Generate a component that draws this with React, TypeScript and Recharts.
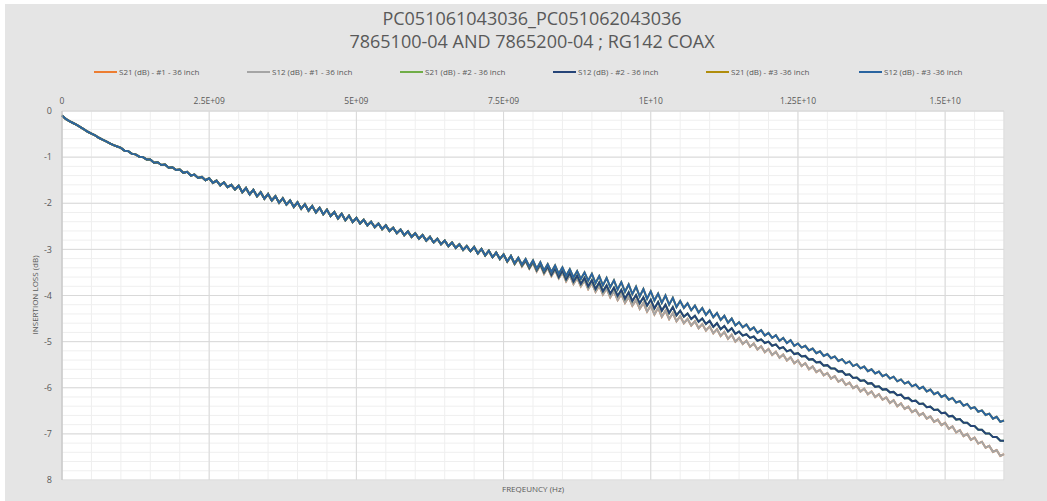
import { LineChart, Line, XAxis, YAxis, CartesianGrid } from 'recharts'

// sweep points, GHz
const FREQ_GHZ = [
  0, 0.0625, 0.125, 0.1875, 0.25, 0.3125, 0.375, 0.4375, 0.5, 0.5625, 0.625, 0.6875, 0.75, 0.8125, 0.875, 0.9375,
  1, 1.0625, 1.125, 1.1875, 1.25, 1.3125, 1.375, 1.4375, 1.5, 1.5625, 1.625, 1.6875, 1.75, 1.8125, 1.875, 1.9375,
  2, 2.0625, 2.125, 2.1875, 2.25, 2.3125, 2.375, 2.4375, 2.5, 2.5625, 2.625, 2.6875, 2.75, 2.8125, 2.875, 2.9375,
  3, 3.0625, 3.125, 3.1875, 3.25, 3.3125, 3.375, 3.4375, 3.5, 3.5625, 3.625, 3.6875, 3.75, 3.8125, 3.875, 3.9375,
  4, 4.0625, 4.125, 4.1875, 4.25, 4.3125, 4.375, 4.4375, 4.5, 4.5625, 4.625, 4.6875, 4.75, 4.8125, 4.875, 4.9375,
  5, 5.0625, 5.125, 5.1875, 5.25, 5.3125, 5.375, 5.4375, 5.5, 5.5625, 5.625, 5.6875, 5.75, 5.8125, 5.875, 5.9375,
  6, 6.0625, 6.125, 6.1875, 6.25, 6.3125, 6.375, 6.4375, 6.5, 6.5625, 6.625, 6.6875, 6.75, 6.8125, 6.875, 6.9375,
  7, 7.0625, 7.125, 7.1875, 7.25, 7.3125, 7.375, 7.4375, 7.5, 7.5625, 7.625, 7.6875, 7.75, 7.8125, 7.875, 7.9375,
  8, 8.0625, 8.125, 8.1875, 8.25, 8.3125, 8.375, 8.4375, 8.5, 8.5625, 8.625, 8.6875, 8.75, 8.8125, 8.875, 8.9375,
  9, 9.0625, 9.125, 9.1875, 9.25, 9.3125, 9.375, 9.4375, 9.5, 9.5625, 9.625, 9.6875, 9.75, 9.8125, 9.875, 9.9375,
  10, 10.0625, 10.125, 10.1875, 10.25, 10.3125, 10.375, 10.4375, 10.5, 10.5625, 10.625, 10.6875, 10.75, 10.8125, 10.875, 10.9375,
  11, 11.0625, 11.125, 11.1875, 11.25, 11.3125, 11.375, 11.4375, 11.5, 11.5625, 11.625, 11.6875, 11.75, 11.8125, 11.875, 11.9375,
  12, 12.0625, 12.125, 12.1875, 12.25, 12.3125, 12.375, 12.4375, 12.5, 12.5625, 12.625, 12.6875, 12.75, 12.8125, 12.875, 12.9375,
  13, 13.0625, 13.125, 13.1875, 13.25, 13.3125, 13.375, 13.4375, 13.5, 13.5625, 13.625, 13.6875, 13.75, 13.8125, 13.875, 13.9375,
  14, 14.0625, 14.125, 14.1875, 14.25, 14.3125, 14.375, 14.4375, 14.5, 14.5625, 14.625, 14.6875, 14.75, 14.8125, 14.875, 14.9375,
  15, 15.0625, 15.125, 15.1875, 15.25, 15.3125, 15.375, 15.4375, 15.5, 15.5625, 15.625, 15.6875, 15.75, 15.8125, 15.875, 15.9375,
  16,
]

// 0 - 7.5 GHz: all three cables lie on top of each other
const COMMON = [
  -0.10, -0.17, -0.22, -0.26, -0.30, -0.35, -0.40, -0.45, -0.49, -0.53, -0.58, -0.62, -0.66, -0.70, -0.74, -0.77,
  -0.80, -0.86, -0.87, -0.93, -0.94, -0.99, -1.00, -1.05, -1.05, -1.12, -1.11, -1.17, -1.16, -1.23, -1.22, -1.28,
  -1.27, -1.34, -1.32, -1.40, -1.38, -1.45, -1.43, -1.50, -1.46, -1.56, -1.51, -1.61, -1.55, -1.65, -1.60, -1.70,
  -1.62, -1.76, -1.67, -1.81, -1.71, -1.85, -1.76, -1.90, -1.80, -1.94, -1.85, -1.99, -1.89, -2.03, -1.94, -2.08,
  -1.98, -2.12, -2.02, -2.16, -2.06, -2.20, -2.10, -2.24, -2.14, -2.28, -2.19, -2.33, -2.23, -2.37, -2.27, -2.41,
  -2.32, -2.44, -2.36, -2.48, -2.40, -2.52, -2.44, -2.56, -2.48, -2.60, -2.53, -2.65, -2.57, -2.69, -2.61, -2.73,
  -2.65, -2.77, -2.69, -2.81, -2.73, -2.85, -2.77, -2.89, -2.81, -2.93, -2.85, -2.97, -2.89, -3.01, -2.93, -3.04,
  -2.95, -3.09, -2.99, -3.13, -3.03, -3.17, -3.07, -3.21, -3.11,
]

// 7.5625 - 16 GHz, cable #1
const TAIL_1 = [
  -3.27, -3.15, -3.32, -3.20, -3.37, -3.25, -3.42,
  -3.29, -3.48, -3.34, -3.53, -3.40, -3.58, -3.45, -3.63, -3.50, -3.69, -3.56, -3.75, -3.62, -3.80, -3.67, -3.86,
  -3.73, -3.92, -3.79, -3.98, -3.85, -4.04, -3.91, -4.10, -3.97, -4.16, -4.03, -4.22, -4.10, -4.29, -4.16, -4.35,
  -4.22, -4.41, -4.27, -4.46, -4.33, -4.51, -4.38, -4.56, -4.45, -4.60, -4.51, -4.65, -4.56, -4.71, -4.62, -4.76,
  -4.67, -4.82, -4.73, -4.88, -4.79, -4.94, -4.85, -5.00, -4.92, -5.05, -4.98, -5.11, -5.04, -5.17, -5.10, -5.23,
  -5.16, -5.29, -5.22, -5.35, -5.28, -5.41, -5.34, -5.47, -5.41, -5.53, -5.47, -5.60, -5.54, -5.66, -5.61, -5.73,
  -5.68, -5.80, -5.75, -5.87, -5.82, -5.94, -5.89, -6.01, -5.96, -6.08, -6.02, -6.14, -6.08, -6.20, -6.14, -6.26,
  -6.21, -6.33, -6.27, -6.40, -6.34, -6.46, -6.41, -6.53, -6.48, -6.60, -6.55, -6.67, -6.62, -6.74, -6.69, -6.81,
  -6.76, -6.89, -6.84, -6.97, -6.92, -7.05, -7.00, -7.13, -7.08, -7.21, -7.17, -7.30, -7.26, -7.39, -7.35, -7.48,
  -7.44,
]

// cable #2
const TAIL_2 = [
  -3.26, -3.15, -3.31, -3.19, -3.35, -3.24, -3.40,
  -3.27, -3.45, -3.32, -3.50, -3.37, -3.55, -3.41, -3.60, -3.46, -3.65, -3.51, -3.70, -3.57, -3.75, -3.62, -3.80,
  -3.67, -3.86, -3.72, -3.91, -3.78, -3.96, -3.83, -4.01, -3.88, -4.07, -3.93, -4.12, -3.99, -4.17, -4.04, -4.22,
  -4.09, -4.28, -4.14, -4.33, -4.20, -4.38, -4.25, -4.43, -4.33, -4.46, -4.39, -4.51, -4.44, -4.57, -4.50, -4.62,
  -4.55, -4.68, -4.60, -4.73, -4.66, -4.78, -4.71, -4.83, -4.78, -4.87, -4.84, -4.92, -4.89, -4.98, -4.95, -5.03,
  -5.00, -5.09, -5.06, -5.15, -5.12, -5.21, -5.18, -5.27, -5.25, -5.32, -5.31, -5.39, -5.38, -5.45, -5.44, -5.52,
  -5.51, -5.58, -5.58, -5.65, -5.64, -5.72, -5.71, -5.79, -5.78, -5.85, -5.84, -5.91, -5.90, -5.98, -5.97, -6.04,
  -6.03, -6.10, -6.09, -6.16, -6.15, -6.23, -6.22, -6.29, -6.28, -6.35, -6.34, -6.42, -6.41, -6.48, -6.47, -6.55,
  -6.54, -6.62, -6.61, -6.69, -6.68, -6.76, -6.76, -6.83, -6.83, -6.91, -6.91, -6.99, -6.99, -7.07, -7.07, -7.15,
  -7.15,
]

// cable #3
const TAIL_3 = [
  -3.26, -3.14, -3.30, -3.18, -3.33, -3.21, -3.37,
  -3.24, -3.42, -3.28, -3.46, -3.32, -3.49, -3.35, -3.53, -3.39, -3.57, -3.43, -3.61, -3.47, -3.64, -3.50, -3.68,
  -3.53, -3.73, -3.58, -3.78, -3.62, -3.82, -3.67, -3.87, -3.71, -3.92, -3.76, -3.97, -3.81, -4.02, -3.86, -4.07,
  -3.91, -4.11, -3.96, -4.16, -4.00, -4.20, -4.05, -4.25, -4.12, -4.27, -4.17, -4.32, -4.22, -4.37, -4.27, -4.42,
  -4.32, -4.47, -4.38, -4.53, -4.44, -4.59, -4.50, -4.65, -4.58, -4.69, -4.63, -4.75, -4.69, -4.81, -4.75, -4.87,
  -4.81, -4.92, -4.86, -4.98, -4.92, -5.03, -4.97, -5.09, -5.04, -5.13, -5.09, -5.19, -5.15, -5.25, -5.21, -5.31,
  -5.27, -5.36, -5.32, -5.42, -5.38, -5.47, -5.43, -5.53, -5.49, -5.58, -5.54, -5.64, -5.60, -5.69, -5.65, -5.75,
  -5.71, -5.80, -5.76, -5.86, -5.82, -5.91, -5.87, -5.97, -5.93, -6.02, -5.98, -6.08, -6.04, -6.14, -6.10, -6.20,
  -6.16, -6.26, -6.22, -6.32, -6.29, -6.39, -6.35, -6.45, -6.42, -6.52, -6.49, -6.59, -6.56, -6.67, -6.63, -6.74,
  -6.71,
]

// S21 and S12 of each cable overlap in the picture, so both use the same reading
const S12_1 = [...COMMON, ...TAIL_1]
const S21_1 = S12_1
const S12_2 = [...COMMON, ...TAIL_2]
const S21_2 = S12_2
const S12_3 = [...COMMON, ...TAIL_3]
const S21_3 = S12_3

const X_TICKS = [0, 2.5e9, 5e9, 7.5e9, 1e10, 1.25e10, 1.5e10]
const X_TICK_LABELS = ['0', '2.5E+09', '5E+09', '7.5E+09', '1E+10', '1.25E+10', '1.5E+10']
const Y_TICKS = [0, -1, -2, -3, -4, -5, -6, -7, -8]
const Y_TICK_LABELS = ['0', '-1', '-2', '-3', '-4', '-5', '-6', '-7', '8']

const SERIES = [
  { key: 's21_1', name: 'S21 (dB) - #1 - 36 inch', color: '#ED7D31', values: S21_1 },
  { key: 's12_1', name: 'S12 (dB) - #1 - 36 inch', color: '#A5A5A5', values: S12_1 },
  { key: 's21_2', name: 'S21 (dB) - #2 - 36 inch', color: '#70AD47', values: S21_2 },
  { key: 's12_2', name: 'S12 (dB) - #2 - 36 inch', color: '#264478', values: S12_2 },
  { key: 's21_3', name: 'S21 (dB) - #3 -36 inch', color: '#B08D0C', values: S21_3 },
  { key: 's12_3', name: 'S12 (dB) - #3 -36 inch', color: '#2A64A0', values: S12_3 },
]

const rows = FREQ_GHZ.map((g, i) => {
  const row: Record<string, number> = { f: g * 1e9 }
  SERIES.forEach(s => { row[s.key] = s.values[i] })
  return row
})

// minor gridlines like the Excel chart (every 0.5 GHz / 0.2 dB)
const MINOR_X = Array.from({ length: 33 }, (_, i) => i * 0.5e9)
const MINOR_Y = Array.from({ length: 41 }, (_, i) => -i * 0.2)

const TEXT = '#595959'
const FONT = '"Open Sans", sans-serif'

export default function App() {
  return (
    <div style={{ position: 'absolute', left: 0, top: 0, width: 1047, height: 501, background: '#fff', fontFamily: FONT, overflow: 'hidden' }}>
      <div style={{ position: 'absolute', left: 5, top: 4, right: 0, bottom: 0, background: '#e5e5e5' }} />

      <div style={{ position: 'absolute', left: 0, top: 7, width: 1064, textAlign: 'center', color: TEXT, fontSize: 18, lineHeight: '23px' }}>
        <div>PC051061043036_PC051062043036</div>
        <div>7865100-04 AND 7865200-04 ; RG142 COAX</div>
      </div>

      <div style={{ position: 'absolute', left: 94, top: 66, display: 'flex' }}>
        {SERIES.map(s => (
          <div key={s.key} style={{ width: 153, display: 'flex', alignItems: 'center', fontSize: 8, color: TEXT, whiteSpace: 'nowrap' }}>
            <span style={{ display: 'inline-block', width: 23, height: 2, background: s.color, marginRight: 2 }} />
            {s.name}
          </div>
        ))}
      </div>

      <div style={{ position: 'absolute', left: 0, top: 0 }}>
        <LineChart width={1047} height={501} data={rows} margin={{ top: 91, right: 43, bottom: 21, left: 32 }}>
          <CartesianGrid fill="#fff" stroke="#efefef" horizontalValues={MINOR_Y} verticalValues={MINOR_X} />
          <CartesianGrid fill="none" stroke="#d9d9d9" />
          <XAxis
            dataKey="f"
            type="number"
            orientation="top"
            height={20}
            domain={[0, 1.6e10]}
            ticks={X_TICKS}
            interval={0}
            tickFormatter={(v: number) => X_TICK_LABELS[X_TICKS.indexOf(v)]}
            tickLine={false}
            tickMargin={1}
            axisLine={{ stroke: '#d9d9d9' }}
            tick={{ fontSize: 8.5, fill: TEXT, fontFamily: FONT }}
          />
          <YAxis
            type="number"
            width={30}
            domain={[-8, 0]}
            ticks={Y_TICKS}
            interval={0}
            tickFormatter={(v: number) => Y_TICK_LABELS[Y_TICKS.indexOf(v)]}
            tickLine={false}
            tickMargin={4}
            axisLine={{ stroke: '#bfbfbf' }}
            tick={{ fontSize: 9, fill: TEXT, fontFamily: FONT }}
          />
          {SERIES.map(s => (
            <Line
              key={s.key}
              dataKey={s.key}
              name={s.name}
              type="linear"
              stroke={s.color}
              strokeWidth={2}
              dot={false}
              isAnimationActive={false}
            />
          ))}
        </LineChart>
      </div>

      <div style={{ position: 'absolute', left: 0, top: 483, width: 1066, textAlign: 'center', fontSize: 8, color: TEXT }}>
        FREQEUNCY (Hz)
      </div>
      <div style={{ position: 'absolute', left: 34, top: 295, transform: 'translate(-50%, -50%) rotate(-90deg)', fontSize: 8, color: TEXT, whiteSpace: 'nowrap' }}>
        INSERTION LOSS (dB)
      </div>
    </div>
  )
}
